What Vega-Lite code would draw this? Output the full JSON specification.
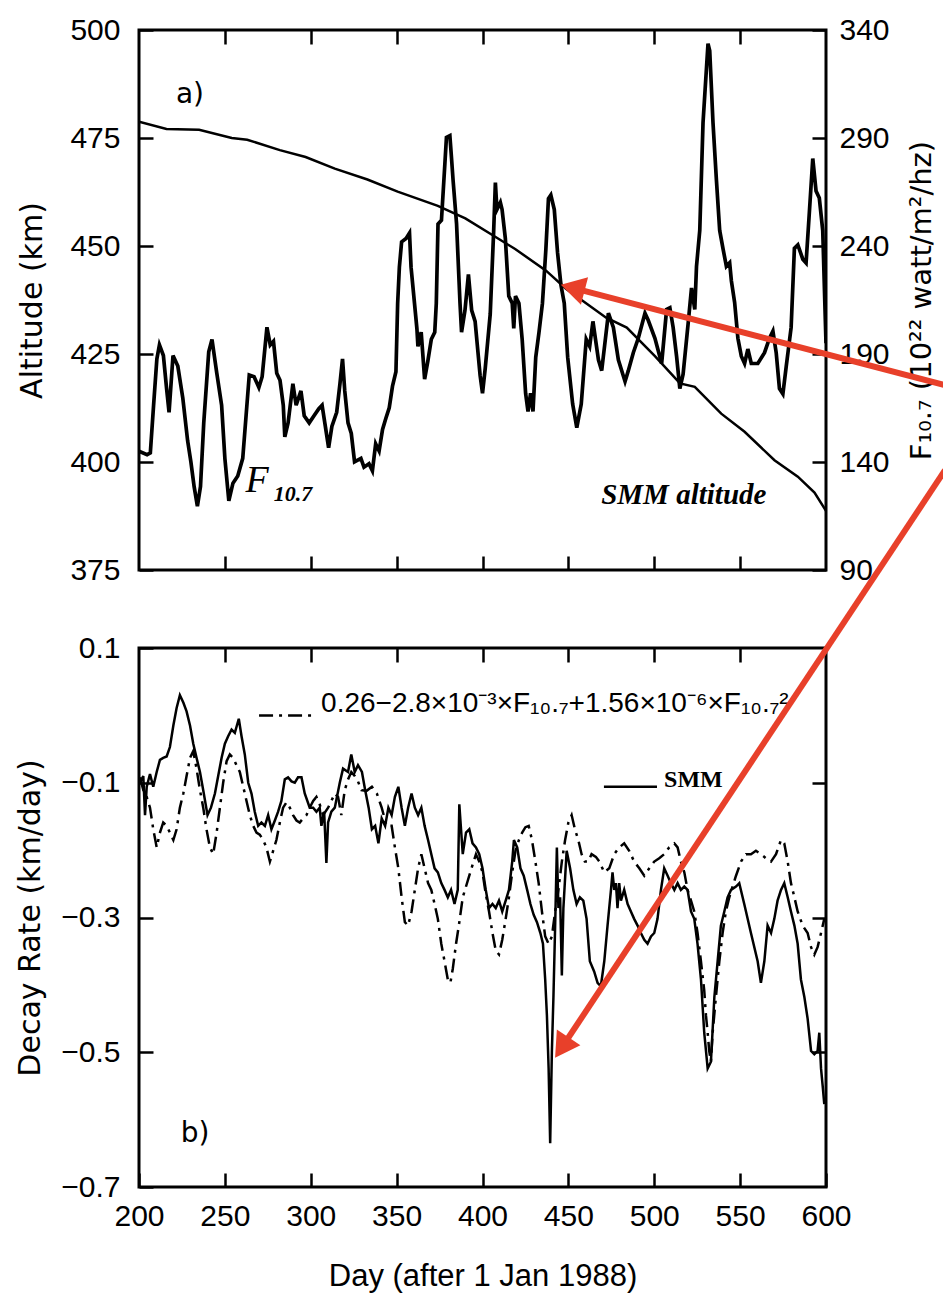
{
  "$schema": "https://vega.github.io/schema/vega-lite/v6.json",
  "background": "white",
  "padding": {"left": 14, "top": 13, "right": 0, "bottom": 0},
  "spacing": 78,
  "bounds": "flush",
  "config": {
    "view": {"stroke": "black", "strokeWidth": 3},
    "axis": {
      "domain": false, "grid": false, "tickColor": "black", "tickWidth": 2.5, "tickSize": -14, "labelFlush": false, "labelOverlap": false,
      "labelColor": "black", "labelFont": "Liberation Sans", "labelFontSize": 30,
      "titleColor": "black", "titleFont": "DejaVu Sans", "titleFontWeight": "normal", "titleFontSize": 30
    }
  },
  "datasets": {
    "one": [{"k": 1}],
    "alt": [
      {"day": 200, "alt": 478.8}, {"day": 216, "alt": 477.1}, {"day": 235, "alt": 476.9}, {"day": 254, "alt": 475}, {"day": 263, "alt": 474.6},
      {"day": 282, "alt": 472.2}, {"day": 297, "alt": 470.6}, {"day": 314, "alt": 467.9}, {"day": 333, "alt": 465.4}, {"day": 350.6, "alt": 462.6},
      {"day": 374, "alt": 459.3}, {"day": 390, "alt": 456.4}, {"day": 405.5, "alt": 452.6}, {"day": 419, "alt": 449.3}, {"day": 437, "alt": 444.3},
      {"day": 448.6, "alt": 440.1}, {"day": 472, "alt": 433.4}, {"day": 484, "alt": 431.1}, {"day": 500.4, "alt": 424.5}, {"day": 515, "alt": 418.2},
      {"day": 523.6, "alt": 417.4}, {"day": 539, "alt": 411.2}, {"day": 552.6, "alt": 407}, {"day": 570, "alt": 400.4}, {"day": 583.6, "alt": 396.6},
      {"day": 593.3, "alt": 392.9}, {"day": 600, "alt": 388.7}
    ],
    "f107": [
      {"day": 200, "f": 145}, {"day": 204.7, "f": 143.4}, {"day": 206.6, "f": 144.2}, {"day": 208.5, "f": 166.3}, {"day": 210.4, "f": 187.7},
      {"day": 211.9, "f": 194.2}, {"day": 214.2, "f": 189.3}, {"day": 216, "f": 174.5}, {"day": 217.5, "f": 163}, {"day": 219.8, "f": 189.3},
      {"day": 222.6, "f": 184.4}, {"day": 225.5, "f": 169.6}, {"day": 228.3, "f": 149.9}, {"day": 230.2, "f": 140.1}, {"day": 232.1, "f": 128.6},
      {"day": 234, "f": 119.5}, {"day": 235.8, "f": 128.6}, {"day": 237.7, "f": 158.1}, {"day": 240.6, "f": 191}, {"day": 242.5, "f": 196.7},
      {"day": 245.3, "f": 181.1}, {"day": 248.1, "f": 166.3}, {"day": 250, "f": 141.7}, {"day": 252.3, "f": 122}, {"day": 254.7, "f": 130.2},
      {"day": 257.5, "f": 133.5}, {"day": 260.4, "f": 141.7}, {"day": 264.2, "f": 180.3}, {"day": 267, "f": 179.5}, {"day": 269.8, "f": 174.5},
      {"day": 271.7, "f": 179.5}, {"day": 274.5, "f": 202.4}, {"day": 276.4, "f": 194.2}, {"day": 278.3, "f": 195.9}, {"day": 280.2, "f": 181.1},
      {"day": 282.1, "f": 177.8}, {"day": 284, "f": 166.3}, {"day": 284.9, "f": 151.6}, {"day": 286.8, "f": 158.1}, {"day": 289.6, "f": 176.2},
      {"day": 291.5, "f": 166.3}, {"day": 294.3, "f": 172.9}, {"day": 296.2, "f": 161.4}, {"day": 299.1, "f": 158.1}, {"day": 301.9, "f": 161.4},
      {"day": 304.7, "f": 164.7}, {"day": 306.6, "f": 166.3}, {"day": 308.5, "f": 156.5}, {"day": 310.4, "f": 146.6}, {"day": 312.3, "f": 156.5},
      {"day": 315.1, "f": 163}, {"day": 317, "f": 176.2}, {"day": 318.5, "f": 187.7}, {"day": 319.8, "f": 172.9}, {"day": 321.7, "f": 158.1},
      {"day": 323.6, "f": 153.2}, {"day": 325.5, "f": 140.1}, {"day": 329.2, "f": 141.7}, {"day": 331, "f": 137.6}, {"day": 333.9, "f": 139.2},
      {"day": 335.9, "f": 135.9}, {"day": 337.8, "f": 148.4}, {"day": 339.8, "f": 145.1}, {"day": 341.8, "f": 155.1}, {"day": 343.7, "f": 160.1},
      {"day": 345.7, "f": 165.1}, {"day": 347.6, "f": 175.1}, {"day": 349.6, "f": 181.8}, {"day": 350.6, "f": 213.5}, {"day": 351.6, "f": 230.2},
      {"day": 352.9, "f": 241.9}, {"day": 355.5, "f": 243.5}, {"day": 357.5, "f": 246}, {"day": 358.4, "f": 230.2}, {"day": 360.4, "f": 213.5},
      {"day": 361.8, "f": 201.8}, {"day": 362.4, "f": 193.5}, {"day": 364.3, "f": 200.1}, {"day": 366.3, "f": 178.4}, {"day": 368.2, "f": 186.8},
      {"day": 370.2, "f": 196.8}, {"day": 372.2, "f": 200.1}, {"day": 373.1, "f": 213.5}, {"day": 374.1, "f": 250.2}, {"day": 376.1, "f": 251.9},
      {"day": 378, "f": 276.9}, {"day": 379, "f": 290.3}, {"day": 381, "f": 291.1}, {"day": 382, "f": 280.2}, {"day": 382.9, "f": 270.2},
      {"day": 384.9, "f": 250.2}, {"day": 386.9, "f": 213.5}, {"day": 387.8, "f": 200.1}, {"day": 389.8, "f": 210.2}, {"day": 391.8, "f": 226.8},
      {"day": 393.7, "f": 210.2}, {"day": 395.7, "f": 205.1}, {"day": 398.6, "f": 180.1}, {"day": 400, "f": 171.8}, {"day": 401.6, "f": 183.4},
      {"day": 404.5, "f": 208.5}, {"day": 406.5, "f": 246.9}, {"day": 407.5, "f": 269.4}, {"day": 408.4, "f": 256.9}, {"day": 410.4, "f": 260.2},
      {"day": 411.4, "f": 256.9}, {"day": 413.3, "f": 243.5}, {"day": 415.3, "f": 216.8}, {"day": 417.3, "f": 213.5}, {"day": 418.2, "f": 201.8},
      {"day": 419.2, "f": 216.8}, {"day": 421.2, "f": 213.5}, {"day": 423.1, "f": 196.8}, {"day": 425.1, "f": 171.8}, {"day": 426.5, "f": 163.4},
      {"day": 428, "f": 171.8}, {"day": 429.4, "f": 163.4}, {"day": 431, "f": 188.5}, {"day": 432.9, "f": 200.1}, {"day": 434.9, "f": 213.5},
      {"day": 436.9, "f": 238.5}, {"day": 438.4, "f": 261.9}, {"day": 439.8, "f": 263.6}, {"day": 441.8, "f": 256.9}, {"day": 443.7, "f": 236.9},
      {"day": 445.7, "f": 221.8}, {"day": 447.6, "f": 213.5}, {"day": 449.6, "f": 188.5}, {"day": 452.5, "f": 166.8}, {"day": 454.9, "f": 155.9},
      {"day": 457.5, "f": 166.8}, {"day": 460.4, "f": 196.8}, {"day": 462.4, "f": 193.5}, {"day": 464.3, "f": 205.1}, {"day": 467.5, "f": 187.3},
      {"day": 469.4, "f": 182.3}, {"day": 473.3, "f": 208.9}, {"day": 476.2, "f": 202.3}, {"day": 479.1, "f": 187.3}, {"day": 483, "f": 177.3},
      {"day": 484.9, "f": 182.3}, {"day": 487.8, "f": 190.6}, {"day": 490.7, "f": 197.3}, {"day": 494.6, "f": 208.9}, {"day": 496.5, "f": 205.6},
      {"day": 500.4, "f": 197.3}, {"day": 504.3, "f": 185.6}, {"day": 507.2, "f": 210.6}, {"day": 509.1, "f": 211.4}, {"day": 511, "f": 202.3},
      {"day": 513, "f": 189}, {"day": 514.9, "f": 174}, {"day": 516.8, "f": 180.7}, {"day": 519.7, "f": 203.9}, {"day": 521.7, "f": 220.6},
      {"day": 523.6, "f": 210.6}, {"day": 524.6, "f": 230.6}, {"day": 526.5, "f": 247.2}, {"day": 528.4, "f": 297.1}, {"day": 531.3, "f": 333.7},
      {"day": 532.3, "f": 330.4}, {"day": 534.2, "f": 297.1}, {"day": 536.2, "f": 270.5}, {"day": 538.1, "f": 247.2}, {"day": 540, "f": 238.9},
      {"day": 542, "f": 230.6}, {"day": 543.9, "f": 232.2}, {"day": 544.9, "f": 223.9}, {"day": 546.8, "f": 213.9}, {"day": 548.7, "f": 197.3},
      {"day": 550.7, "f": 189}, {"day": 552.6, "f": 185.6}, {"day": 554.5, "f": 192.3}, {"day": 556.5, "f": 185.6}, {"day": 560.3, "f": 185.6},
      {"day": 564.2, "f": 190.6}, {"day": 567.1, "f": 197.3}, {"day": 569.1, "f": 200.6}, {"day": 571, "f": 190.6}, {"day": 572.9, "f": 174},
      {"day": 574.9, "f": 171.5}, {"day": 576.8, "f": 184}, {"day": 579.7, "f": 202.3}, {"day": 581.6, "f": 238.9}, {"day": 583.6, "f": 240.5},
      {"day": 586.5, "f": 233.9}, {"day": 588.4, "f": 232.2}, {"day": 590.3, "f": 255.5}, {"day": 592.3, "f": 280.5}, {"day": 594.2, "f": 265.5},
      {"day": 596.1, "f": 262.2}, {"day": 598.1, "f": 247.2}, {"day": 600, "f": 195}
    ],
    "smm": [
      {"day": 200.6, "r": -0.1}, {"day": 202.5, "r": -0.09}, {"day": 203.5, "r": -0.148}, {"day": 204.5, "r": -0.106}, {"day": 206.4, "r": -0.087},
      {"day": 208.3, "r": -0.106}, {"day": 210.3, "r": -0.084}, {"day": 212.2, "r": -0.066}, {"day": 214.1, "r": -0.063}, {"day": 216.1, "r": -0.061},
      {"day": 218, "r": -0.047}, {"day": 220, "r": -0.015}, {"day": 221.9, "r": 0.011}, {"day": 223.8, "r": 0.03}, {"day": 225.8, "r": 0.019},
      {"day": 227.7, "r": 0.006}, {"day": 229.7, "r": -0.015}, {"day": 231.6, "r": -0.042}, {"day": 233.5, "r": -0.063}, {"day": 235.5, "r": -0.084},
      {"day": 237.4, "r": -0.111}, {"day": 239.9, "r": -0.148}, {"day": 241.9, "r": -0.137}, {"day": 244.2, "r": -0.116}, {"day": 246.1, "r": -0.09},
      {"day": 248.1, "r": -0.063}, {"day": 250, "r": -0.042}, {"day": 251.9, "r": -0.031}, {"day": 253.9, "r": -0.021}, {"day": 255.8, "r": -0.026},
      {"day": 258.1, "r": -0.005}, {"day": 259.7, "r": -0.031}, {"day": 261.6, "r": -0.058}, {"day": 263.6, "r": -0.1}, {"day": 265.5, "r": -0.116},
      {"day": 267.4, "r": -0.143}, {"day": 269.4, "r": -0.164}, {"day": 271.3, "r": -0.159}, {"day": 273.3, "r": -0.164}, {"day": 275.2, "r": -0.148},
      {"day": 277.1, "r": -0.169}, {"day": 279.1, "r": -0.156}, {"day": 281, "r": -0.143}, {"day": 282.9, "r": -0.127}, {"day": 284.9, "r": -0.095},
      {"day": 286.8, "r": -0.092}, {"day": 288.8, "r": -0.098}, {"day": 290.7, "r": -0.1}, {"day": 292.6, "r": -0.092}, {"day": 294.6, "r": -0.092},
      {"day": 296.5, "r": -0.116}, {"day": 299.4, "r": -0.137}, {"day": 301.4, "r": -0.137}, {"day": 303.3, "r": -0.143}, {"day": 305.2, "r": -0.137},
      {"day": 306.2, "r": -0.164}, {"day": 307.8, "r": -0.143}, {"day": 309.1, "r": -0.219}, {"day": 310.1, "r": -0.159}, {"day": 312, "r": -0.143},
      {"day": 314, "r": -0.137}, {"day": 316.9, "r": -0.1}, {"day": 318.8, "r": -0.079}, {"day": 321.7, "r": -0.084}, {"day": 323.6, "r": -0.058},
      {"day": 325.6, "r": -0.084}, {"day": 327.5, "r": -0.074}, {"day": 329.8, "r": -0.084}, {"day": 331.7, "r": -0.111}, {"day": 333.7, "r": -0.137},
      {"day": 335.6, "r": -0.169}, {"day": 337.5, "r": -0.164}, {"day": 339.4, "r": -0.19}, {"day": 341.3, "r": -0.153}, {"day": 343.3, "r": -0.164},
      {"day": 345.2, "r": -0.137}, {"day": 347.1, "r": -0.148}, {"day": 349, "r": -0.121}, {"day": 351, "r": -0.106}, {"day": 352.9, "r": -0.137},
      {"day": 354.8, "r": -0.164}, {"day": 356.7, "r": -0.137}, {"day": 358.7, "r": -0.116}, {"day": 360.6, "r": -0.137}, {"day": 362.5, "r": -0.148},
      {"day": 364.4, "r": -0.137}, {"day": 366.3, "r": -0.164}, {"day": 368.3, "r": -0.185}, {"day": 370.2, "r": -0.206}, {"day": 372.1, "r": -0.227},
      {"day": 374, "r": -0.233}, {"day": 376, "r": -0.249}, {"day": 377.9, "r": -0.259}, {"day": 379.8, "r": -0.27}, {"day": 381.7, "r": -0.259},
      {"day": 383.7, "r": -0.28}, {"day": 385.6, "r": -0.259}, {"day": 386.5, "r": -0.132}, {"day": 387.5, "r": -0.169}, {"day": 388.5, "r": -0.206},
      {"day": 390.4, "r": -0.174}, {"day": 392.3, "r": -0.169}, {"day": 394.2, "r": -0.19}, {"day": 396.2, "r": -0.196}, {"day": 398.1, "r": -0.206},
      {"day": 400, "r": -0.227}, {"day": 401.9, "r": -0.259}, {"day": 403.8, "r": -0.286}, {"day": 405.8, "r": -0.28}, {"day": 407.7, "r": -0.286},
      {"day": 409.6, "r": -0.275}, {"day": 411.5, "r": -0.291}, {"day": 413.5, "r": -0.275}, {"day": 415.4, "r": -0.259}, {"day": 417.3, "r": -0.217},
      {"day": 418.3, "r": -0.185}, {"day": 420.2, "r": -0.196}, {"day": 422.1, "r": -0.227}, {"day": 424, "r": -0.238}, {"day": 426, "r": -0.259},
      {"day": 427.9, "r": -0.28}, {"day": 429.8, "r": -0.296}, {"day": 431.7, "r": -0.307}, {"day": 433.7, "r": -0.323}, {"day": 435.2, "r": -0.339},
      {"day": 436.5, "r": -0.392}, {"day": 437.5, "r": -0.445}, {"day": 438.5, "r": -0.524}, {"day": 439.4, "r": -0.635}, {"day": 440.4, "r": -0.498},
      {"day": 441.3, "r": -0.418}, {"day": 442.3, "r": -0.312}, {"day": 443.3, "r": -0.196}, {"day": 444.2, "r": -0.286}, {"day": 445.2, "r": -0.27},
      {"day": 446.2, "r": -0.386}, {"day": 447.1, "r": -0.286}, {"day": 449, "r": -0.201}, {"day": 451, "r": -0.227}, {"day": 452.9, "r": -0.259},
      {"day": 454.8, "r": -0.28}, {"day": 456.7, "r": -0.27}, {"day": 458.7, "r": -0.275}, {"day": 460.6, "r": -0.302}, {"day": 462.5, "r": -0.365},
      {"day": 465, "r": -0.38}, {"day": 467, "r": -0.397}, {"day": 468.9, "r": -0.402}, {"day": 470.9, "r": -0.365}, {"day": 472.8, "r": -0.312},
      {"day": 474.8, "r": -0.259}, {"day": 475.7, "r": -0.233}, {"day": 476.7, "r": -0.259}, {"day": 477.7, "r": -0.249}, {"day": 478.6, "r": -0.286},
      {"day": 479.6, "r": -0.249}, {"day": 480.6, "r": -0.275}, {"day": 482.5, "r": -0.259}, {"day": 484.5, "r": -0.28}, {"day": 486.4, "r": -0.291},
      {"day": 488.3, "r": -0.302}, {"day": 490.3, "r": -0.312}, {"day": 492.2, "r": -0.323}, {"day": 494.2, "r": -0.333}, {"day": 496.1, "r": -0.339},
      {"day": 498.1, "r": -0.328}, {"day": 500, "r": -0.323}, {"day": 501.9, "r": -0.302}, {"day": 503.9, "r": -0.259}, {"day": 505.8, "r": -0.227},
      {"day": 507.8, "r": -0.238}, {"day": 509.7, "r": -0.249}, {"day": 511.7, "r": -0.259}, {"day": 513.6, "r": -0.249}, {"day": 515.5, "r": -0.259},
      {"day": 517.5, "r": -0.254}, {"day": 519.4, "r": -0.259}, {"day": 521.4, "r": -0.291}, {"day": 523.3, "r": -0.302}, {"day": 525.2, "r": -0.339},
      {"day": 527.2, "r": -0.392}, {"day": 529.1, "r": -0.471}, {"day": 531.1, "r": -0.524}, {"day": 533, "r": -0.514}, {"day": 535, "r": -0.418},
      {"day": 536.9, "r": -0.365}, {"day": 538.8, "r": -0.312}, {"day": 540.8, "r": -0.291}, {"day": 542.7, "r": -0.27}, {"day": 544.7, "r": -0.259},
      {"day": 547.6, "r": -0.254}, {"day": 549.5, "r": -0.249}, {"day": 552.4, "r": -0.28}, {"day": 556.3, "r": -0.323}, {"day": 560.2, "r": -0.365},
      {"day": 562.1, "r": -0.397}, {"day": 564.1, "r": -0.365}, {"day": 566, "r": -0.312}, {"day": 568, "r": -0.323}, {"day": 569.9, "r": -0.302},
      {"day": 571.8, "r": -0.275}, {"day": 573.8, "r": -0.259}, {"day": 575.7, "r": -0.249}, {"day": 577.7, "r": -0.27}, {"day": 579.6, "r": -0.291},
      {"day": 581.6, "r": -0.312}, {"day": 583.5, "r": -0.339}, {"day": 585.4, "r": -0.392}, {"day": 587.4, "r": -0.418}, {"day": 589.3, "r": -0.45},
      {"day": 591.3, "r": -0.498}, {"day": 593.2, "r": -0.503}, {"day": 595.1, "r": -0.498}, {"day": 596.1, "r": -0.471}, {"day": 597.1, "r": -0.524},
      {"day": 598.1, "r": -0.551}, {"day": 599, "r": -0.577}
    ],
    "model": [
      {"day": 200.6, "r": -0.092}, {"day": 202.5, "r": -0.111}, {"day": 204.5, "r": -0.121}, {"day": 206.4, "r": -0.137}, {"day": 208.3, "r": -0.169},
      {"day": 210.3, "r": -0.196}, {"day": 212.2, "r": -0.174}, {"day": 214.1, "r": -0.159}, {"day": 216.1, "r": -0.164}, {"day": 218, "r": -0.174},
      {"day": 220, "r": -0.185}, {"day": 221.9, "r": -0.169}, {"day": 223.8, "r": -0.137}, {"day": 225.8, "r": -0.116}, {"day": 227.7, "r": -0.09},
      {"day": 229.7, "r": -0.063}, {"day": 231.6, "r": -0.053}, {"day": 233.5, "r": -0.079}, {"day": 235.5, "r": -0.111}, {"day": 237.4, "r": -0.137},
      {"day": 239.3, "r": -0.169}, {"day": 241.3, "r": -0.196}, {"day": 243.2, "r": -0.206}, {"day": 245.2, "r": -0.174}, {"day": 247.1, "r": -0.137},
      {"day": 249, "r": -0.1}, {"day": 251, "r": -0.068}, {"day": 252.9, "r": -0.058}, {"day": 254.8, "r": -0.063}, {"day": 256.8, "r": -0.074},
      {"day": 258.7, "r": -0.084}, {"day": 260.7, "r": -0.106}, {"day": 262.6, "r": -0.127}, {"day": 264.5, "r": -0.148}, {"day": 266.5, "r": -0.164},
      {"day": 268.4, "r": -0.174}, {"day": 270.3, "r": -0.177}, {"day": 272.3, "r": -0.185}, {"day": 274.2, "r": -0.196}, {"day": 276.2, "r": -0.217},
      {"day": 278.1, "r": -0.201}, {"day": 280, "r": -0.185}, {"day": 282, "r": -0.159}, {"day": 283.9, "r": -0.137}, {"day": 285.9, "r": -0.129},
      {"day": 287.8, "r": -0.137}, {"day": 289.7, "r": -0.148}, {"day": 291.7, "r": -0.156}, {"day": 293.6, "r": -0.159}, {"day": 295.5, "r": -0.153},
      {"day": 297.5, "r": -0.148}, {"day": 299.4, "r": -0.137}, {"day": 301.4, "r": -0.127}, {"day": 303.3, "r": -0.121}, {"day": 305.2, "r": -0.132},
      {"day": 307.2, "r": -0.148}, {"day": 310.1, "r": -0.137}, {"day": 312, "r": -0.127}, {"day": 314, "r": -0.116}, {"day": 315.9, "r": -0.121},
      {"day": 317.8, "r": -0.148}, {"day": 319.8, "r": -0.111}, {"day": 321.7, "r": -0.095}, {"day": 323.6, "r": -0.084}, {"day": 325.6, "r": -0.09},
      {"day": 327.5, "r": -0.098}, {"day": 329.5, "r": -0.111}, {"day": 332.5, "r": -0.112}, {"day": 335.6, "r": -0.106}, {"day": 338.5, "r": -0.116},
      {"day": 341.3, "r": -0.137}, {"day": 344.2, "r": -0.164}, {"day": 347.1, "r": -0.164}, {"day": 349, "r": -0.196}, {"day": 351, "r": -0.227},
      {"day": 352.9, "r": -0.27}, {"day": 354.8, "r": -0.307}, {"day": 356.7, "r": -0.312}, {"day": 358.7, "r": -0.291}, {"day": 360.6, "r": -0.259},
      {"day": 362.5, "r": -0.227}, {"day": 364.4, "r": -0.206}, {"day": 366.3, "r": -0.227}, {"day": 368.3, "r": -0.249}, {"day": 370.2, "r": -0.259},
      {"day": 372.1, "r": -0.28}, {"day": 374, "r": -0.302}, {"day": 376, "r": -0.339}, {"day": 377.9, "r": -0.365}, {"day": 379.8, "r": -0.392},
      {"day": 381.3, "r": -0.397}, {"day": 382.7, "r": -0.376}, {"day": 384.6, "r": -0.339}, {"day": 386.5, "r": -0.307}, {"day": 388.5, "r": -0.27},
      {"day": 390.4, "r": -0.254}, {"day": 392.3, "r": -0.238}, {"day": 394.2, "r": -0.222}, {"day": 396.2, "r": -0.206}, {"day": 398.1, "r": -0.217},
      {"day": 400, "r": -0.233}, {"day": 401.9, "r": -0.265}, {"day": 403.8, "r": -0.291}, {"day": 405.8, "r": -0.323}, {"day": 407.7, "r": -0.349},
      {"day": 409.6, "r": -0.355}, {"day": 411.5, "r": -0.333}, {"day": 413.5, "r": -0.302}, {"day": 415.4, "r": -0.27}, {"day": 417.3, "r": -0.233},
      {"day": 419.2, "r": -0.201}, {"day": 421.2, "r": -0.185}, {"day": 423.1, "r": -0.174}, {"day": 425, "r": -0.166}, {"day": 426.9, "r": -0.164},
      {"day": 428.8, "r": -0.185}, {"day": 430.8, "r": -0.217}, {"day": 432.7, "r": -0.249}, {"day": 434.6, "r": -0.291}, {"day": 436.5, "r": -0.328},
      {"day": 438.5, "r": -0.339}, {"day": 440.4, "r": -0.328}, {"day": 442.3, "r": -0.291}, {"day": 444.2, "r": -0.259}, {"day": 446.2, "r": -0.217},
      {"day": 448.1, "r": -0.185}, {"day": 450, "r": -0.159}, {"day": 451.9, "r": -0.148}, {"day": 453.8, "r": -0.169}, {"day": 455.8, "r": -0.185},
      {"day": 457.7, "r": -0.206}, {"day": 459.6, "r": -0.217}, {"day": 461.5, "r": -0.217}, {"day": 463.5, "r": -0.206}, {"day": 466, "r": -0.21},
      {"day": 468, "r": -0.217}, {"day": 470.9, "r": -0.233}, {"day": 473.8, "r": -0.227}, {"day": 476.7, "r": -0.206}, {"day": 479.6, "r": -0.196},
      {"day": 482.5, "r": -0.19}, {"day": 485.4, "r": -0.201}, {"day": 488.3, "r": -0.217}, {"day": 491.3, "r": -0.227}, {"day": 494.2, "r": -0.238},
      {"day": 497.1, "r": -0.227}, {"day": 500, "r": -0.217}, {"day": 502.9, "r": -0.212}, {"day": 505.8, "r": -0.206}, {"day": 508.7, "r": -0.196},
      {"day": 511.7, "r": -0.19}, {"day": 513.6, "r": -0.196}, {"day": 515.5, "r": -0.217}, {"day": 517.5, "r": -0.233}, {"day": 519.4, "r": -0.259},
      {"day": 521.4, "r": -0.275}, {"day": 523.3, "r": -0.291}, {"day": 525.2, "r": -0.323}, {"day": 527.2, "r": -0.365}, {"day": 529.1, "r": -0.408},
      {"day": 530.1, "r": -0.445}, {"day": 531.1, "r": -0.471}, {"day": 532, "r": -0.498}, {"day": 533, "r": -0.514}, {"day": 534, "r": -0.471},
      {"day": 535.9, "r": -0.418}, {"day": 537.9, "r": -0.365}, {"day": 539.8, "r": -0.323}, {"day": 541.7, "r": -0.291}, {"day": 543.7, "r": -0.27},
      {"day": 545.6, "r": -0.254}, {"day": 547.6, "r": -0.238}, {"day": 550.5, "r": -0.217}, {"day": 553.4, "r": -0.206}, {"day": 556.3, "r": -0.206},
      {"day": 559.2, "r": -0.201}, {"day": 562.1, "r": -0.206}, {"day": 565, "r": -0.212}, {"day": 568, "r": -0.217}, {"day": 570.9, "r": -0.206},
      {"day": 573.8, "r": -0.185}, {"day": 575.7, "r": -0.19}, {"day": 577.7, "r": -0.217}, {"day": 579.6, "r": -0.249}, {"day": 581.6, "r": -0.27},
      {"day": 583.5, "r": -0.291}, {"day": 586.4, "r": -0.312}, {"day": 589.3, "r": -0.323}, {"day": 591.3, "r": -0.344}, {"day": 593.2, "r": -0.355},
      {"day": 595.1, "r": -0.344}, {"day": 597.1, "r": -0.323}, {"day": 599, "r": -0.302}
    ]
  },
  "vconcat": [
    {
      "width": 687,
      "height": 540,
      "layer": [
        {
          "data": {"name": "alt"},
          "mark": {"type": "line", "color": "black", "strokeWidth": 2.5, "clip": true},
          "encoding": {
            "x": {"field": "day", "type": "quantitative", "scale": {"domain": [200, 600], "nice": false, "zero": false},
                  "axis": {"orient": "bottom", "values": [250, 300, 350, 400, 450, 500, 550], "labels": false, "title": null}},
            "y": {"field": "alt", "type": "quantitative", "scale": {"domain": [375, 500], "nice": false, "zero": false},
                  "axis": {"orient": "left", "values": [375, 400, 425, 450, 475, 500], "title": "Altitude (km)", "labelPadding": 33, "titlePadding": 22}}
          }
        },
        {
          "data": {"name": "f107"},
          "mark": {"type": "line", "color": "black", "strokeWidth": 3.7, "clip": true},
          "encoding": {
            "x": {"field": "day", "type": "quantitative", "scale": {"domain": [200, 600], "nice": false, "zero": false},
                  "axis": {"orient": "top", "values": [250, 300, 350, 400, 450, 500, 550], "labels": false, "title": null}},
            "y": {"field": "f", "type": "quantitative", "scale": {"domain": [90, 340], "nice": false, "zero": false},
                  "axis": {"orient": "right", "values": [90, 140, 190, 240, 290, 340], "title": "F₁₀.₇ (10²² watt/m²/hz)", "titleAngle": 270, "titleBaseline": "top", "labelPadding": 27, "titlePadding": 18, "titleFontSize": 29}}
          }
        },
        {
          "data": {"name": "one"},
          "mark": {"type": "text", "text": "a)", "font": "DejaVu Sans", "fontSize": 28, "color": "black"},
          "encoding": {
            "x": {"datum": 229.7, "type": "quantitative", "scale": {"domain": [200, 600], "nice": false, "zero": false}, "axis": null},
            "y": {"datum": 485, "type": "quantitative", "scale": {"domain": [375, 500], "nice": false, "zero": false}, "axis": null}
          }
        },
        {
          "data": {"name": "one"},
          "mark": {"type": "text", "text": "F", "font": "Liberation Serif", "fontStyle": "italic", "fontSize": 38, "color": "black"},
          "encoding": {
            "x": {"datum": 268.8, "type": "quantitative", "scale": {"domain": [200, 600], "nice": false, "zero": false}, "axis": null},
            "y": {"datum": 395.6, "type": "quantitative", "scale": {"domain": [375, 500], "nice": false, "zero": false}, "axis": null}
          }
        },
        {
          "data": {"name": "one"},
          "mark": {"type": "text", "text": "10.7", "font": "Liberation Serif", "fontStyle": "italic", "fontWeight": "bold", "fontSize": 22, "color": "black"},
          "encoding": {
            "x": {"datum": 289.6, "type": "quantitative", "scale": {"domain": [200, 600], "nice": false, "zero": false}, "axis": null},
            "y": {"datum": 392.7, "type": "quantitative", "scale": {"domain": [375, 500], "nice": false, "zero": false}, "axis": null}
          }
        },
        {
          "data": {"name": "one"},
          "mark": {"type": "text", "text": "SMM altitude", "font": "Liberation Serif", "fontStyle": "italic", "fontWeight": "bold", "fontSize": 29, "color": "black"},
          "encoding": {
            "x": {"datum": 517.2, "type": "quantitative", "scale": {"domain": [200, 600], "nice": false, "zero": false}, "axis": null},
            "y": {"datum": 392.3, "type": "quantitative", "scale": {"domain": [375, 500], "nice": false, "zero": false}, "axis": null}
          }
        },
        {
          "data": {"name": "one"},
          "mark": {"type": "rule", "color": "#e8402a", "strokeWidth": 6, "clip": false},
          "encoding": {
            "x": {"datum": 669.3, "type": "quantitative", "scale": {"domain": [200, 600], "nice": false, "zero": false}, "axis": null},
            "x2": {"datum": 452.5},
            "y": {"datum": 417.8, "type": "quantitative", "scale": {"domain": [375, 500], "nice": false, "zero": false}, "axis": null},
            "y2": {"datum": 440.3}
          }
        },
        {
          "data": {"name": "one"},
          "mark": {"type": "point", "shape": "triangle-up", "filled": true, "color": "#e8402a", "opacity": 1, "size": 800, "angle": 284.6, "clip": false},
          "encoding": {
            "x": {"datum": 452.5, "type": "quantitative", "scale": {"domain": [200, 600], "nice": false, "zero": false}, "axis": null},
            "y": {"datum": 440.3, "type": "quantitative", "scale": {"domain": [375, 500], "nice": false, "zero": false}, "axis": null}
          }
        }
      ],
      "resolve": {"scale": {"y": "independent"}, "axis": {"x": "independent", "y": "independent"}}
    },
    {
      "width": 687,
      "height": 539,
      "layer": [
        {
          "data": {"name": "smm"},
          "mark": {"type": "line", "color": "black", "strokeWidth": 2.5, "clip": true},
          "encoding": {
            "x": {"field": "day", "type": "quantitative", "scale": {"domain": [200, 600], "nice": false, "zero": false},
                  "axis": {"orient": "bottom", "values": [200, 250, 300, 350, 400, 450, 500, 550, 600], "title": "Day (after 1 Jan 1988)", "titleFont": "Liberation Sans", "titleFontSize": 31, "labelPadding": 28, "titlePadding": 30}},
            "y": {"field": "r", "type": "quantitative", "scale": {"domain": [-0.7, 0.1], "nice": false, "zero": false},
                  "axis": {"orient": "left", "values": [-0.7, -0.5, -0.3, -0.1, 0.1], "format": ".1f", "title": "Decay Rate (km/day)", "labelPadding": 33, "titlePadding": 15}}
          }
        },
        {
          "data": {"name": "model"},
          "mark": {"type": "line", "color": "black", "strokeWidth": 2.5, "strokeDash": [14, 6, 3, 6], "clip": true},
          "encoding": {
            "x": {"field": "day", "type": "quantitative", "scale": {"domain": [200, 600], "nice": false, "zero": false},
                  "axis": {"orient": "top", "values": [250, 300, 350, 400, 450, 500, 550], "labels": false, "title": null}},
            "y": {"field": "r", "type": "quantitative", "scale": {"domain": [-0.7, 0.1], "nice": false, "zero": false},
                  "axis": {"orient": "right", "values": [-0.5, -0.3, -0.1], "labels": false, "title": null}}
          }
        },
        {
          "data": {"name": "one"},
          "mark": {"type": "rule", "color": "black", "strokeWidth": 2.5, "strokeDash": [14, 6, 3, 6]},
          "encoding": {
            "x": {"datum": 269.9, "type": "quantitative", "scale": {"domain": [200, 600], "nice": false, "zero": false}, "axis": null},
            "x2": {"datum": 301.9},
            "y": {"datum": 0.0, "type": "quantitative", "scale": {"domain": [-0.7, 0.1], "nice": false, "zero": false}, "axis": null}
          }
        },
        {
          "data": {"name": "one"},
          "mark": {"type": "text", "text": "0.26−2.8×10⁻³×F₁₀.₇+1.56×10⁻⁶×F₁₀.₇²", "align": "left", "font": "Liberation Sans", "fontSize": 28, "color": "black"},
          "encoding": {
            "x": {"datum": 306, "type": "quantitative", "scale": {"domain": [200, 600], "nice": false, "zero": false}, "axis": null},
            "y": {"datum": 0.017, "type": "quantitative", "scale": {"domain": [-0.7, 0.1], "nice": false, "zero": false}, "axis": null}
          }
        },
        {
          "data": {"name": "one"},
          "mark": {"type": "rule", "color": "black", "strokeWidth": 2.5},
          "encoding": {
            "x": {"datum": 470.7, "type": "quantitative", "scale": {"domain": [200, 600], "nice": false, "zero": false}, "axis": null},
            "x2": {"datum": 501.6},
            "y": {"datum": -0.106, "type": "quantitative", "scale": {"domain": [-0.7, 0.1], "nice": false, "zero": false}, "axis": null}
          }
        },
        {
          "data": {"name": "one"},
          "mark": {"type": "text", "text": "SMM", "align": "left", "font": "Liberation Serif", "fontWeight": "bold", "fontSize": 24, "color": "black"},
          "encoding": {
            "x": {"datum": 505.7, "type": "quantitative", "scale": {"domain": [200, 600], "nice": false, "zero": false}, "axis": null},
            "y": {"datum": -0.096, "type": "quantitative", "scale": {"domain": [-0.7, 0.1], "nice": false, "zero": false}, "axis": null}
          }
        },
        {
          "data": {"name": "one"},
          "mark": {"type": "text", "text": "b)", "font": "DejaVu Sans", "fontSize": 28, "color": "black"},
          "encoding": {
            "x": {"datum": 232.6, "type": "quantitative", "scale": {"domain": [200, 600], "nice": false, "zero": false}, "axis": null},
            "y": {"datum": -0.622, "type": "quantitative", "scale": {"domain": [-0.7, 0.1], "nice": false, "zero": false}, "axis": null}
          }
        },
        {
          "data": {"name": "one"},
          "mark": {"type": "rule", "color": "#e8402a", "strokeWidth": 6, "clip": false},
          "encoding": {
            "x": {"datum": 669.3, "type": "quantitative", "scale": {"domain": [200, 600], "nice": false, "zero": false}, "axis": null},
            "x2": {"datum": 446.2},
            "y": {"datum": 0.364, "type": "quantitative", "scale": {"domain": [-0.7, 0.1], "nice": false, "zero": false}, "axis": null},
            "y2": {"datum": -0.493}
          }
        },
        {
          "data": {"name": "one"},
          "mark": {"type": "point", "shape": "triangle-up", "filled": true, "color": "#e8402a", "opacity": 1, "size": 800, "angle": 213.6, "clip": false},
          "encoding": {
            "x": {"datum": 446.2, "type": "quantitative", "scale": {"domain": [200, 600], "nice": false, "zero": false}, "axis": null},
            "y": {"datum": -0.493, "type": "quantitative", "scale": {"domain": [-0.7, 0.1], "nice": false, "zero": false}, "axis": null}
          }
        }
      ],
      "resolve": {"axis": {"x": "independent", "y": "independent"}}
    }
  ]
}
